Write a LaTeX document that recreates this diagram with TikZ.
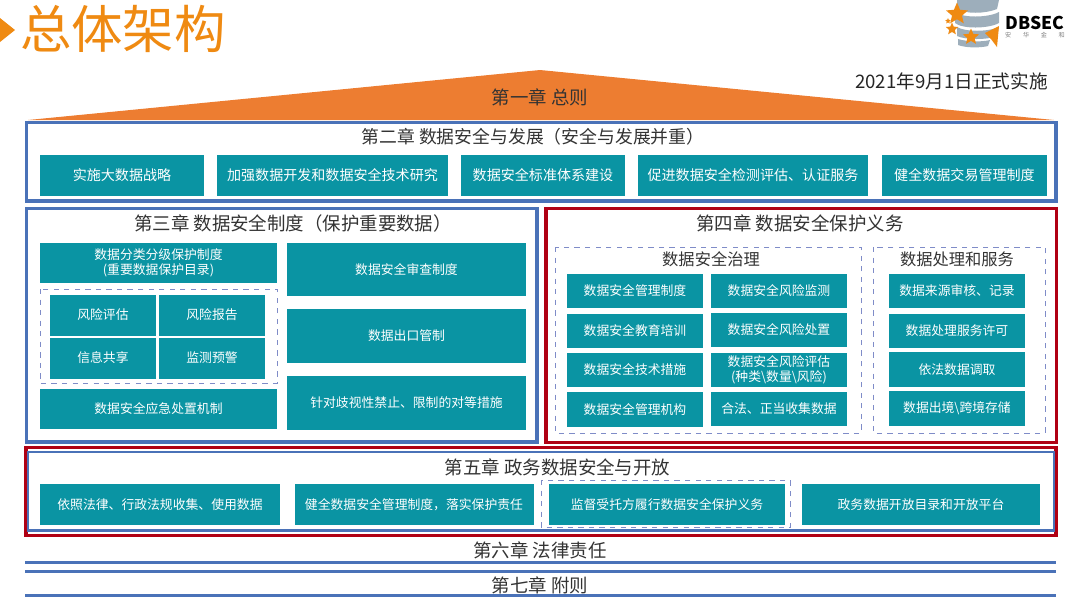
\documentclass[tikz,border=0pt]{standalone}
\usepackage{fontspec}
\usetikzlibrary{shapes.geometric}
\setmainfont{Noto Sans CJK SC}
\definecolor{tealbox}{HTML}{0A94A3}
\definecolor{framblue}{HTML}{4A72B8}
\definecolor{framred}{HTML}{B00014}
\definecolor{roofor}{HTML}{ED7D31}
\definecolor{titleor}{HTML}{EF8A12}
\definecolor{dashblue}{HTML}{7F8CC8}
\definecolor{logogray}{HTML}{9DAEBB}
\definecolor{headgray}{HTML}{333333}

\begin{document}
\begin{tikzpicture}[
    x=0.02cm, y=-0.02cm,
    sz/.style 2 args={minimum width=#1*0.02cm, minimum height=#2*0.02cm},
    box/.style={fill=tealbox, text=white, inner sep=0pt, align=center,
                font=\fontsize{7.3}{8.6}\selectfont},
    bigbox/.style={box, font=\fontsize{8}{9}\selectfont},
    chaphead/.style={text=headgray, inner sep=0pt, font=\fontsize{10.5}{12}\selectfont},
    subhead/.style={text=headgray, inner sep=0pt, font=\fontsize{9.25}{11}\selectfont},
    bluefrm/.style={draw=framblue, line width=3.2*0.02cm},
    redfrm/.style={draw=framred, line width=3.2*0.02cm},
    dashfrm/.style={draw=dashblue, dashed, line width=1*0.02cm},
    rule/.style={draw=framblue, line width=3*0.02cm},
    star5/.style={star, star points=5, star point ratio=2.2, fill=titleor, inner sep=0pt},
]
\useasboundingbox (0,0) rectangle (1080,603);

% 标题
\fill[titleor] (0,18) -- (15,30) -- (0,42) -- cycle;
\node[text=titleor, inner sep=0pt, font=\fontsize{29.3}{31}\selectfont] (title) at (123,29) {总体架构};

% 标志
\fill[logogray] (957,0) -- (999,0) -- (997,9) .. controls (985,14) and (965,14) .. (957,9) -- cycle;
\fill[logogray] (955,12) .. controls (962,18) and (988,18) .. (999,12) -- (999,23) .. controls (988,29) and (962,29) .. (955,23) -- cycle;
\fill[logogray] (957,27) .. controls (965,32) and (988,32) .. (999,27) -- (997,36) .. controls (988,40) and (965,40) .. (957,36) -- cycle;
\fill[logogray] (958,39) .. controls (968,42) and (982,42) .. (990,40) -- (988,46) .. controls (980,48) and (966,48) .. (958,45) -- cycle;
\node[star5, minimum size=23*0.02cm] (starbig) at (957,14) {};
\node[star5, minimum size=13*0.02cm] (starmid) at (952,29) {};
\node[star5, minimum size=6*0.02cm] (starsmall) at (948,21) {};
\node[star5, minimum size=17*0.02cm] (starlow) at (971,37) {};
\fill[titleor] (985,33) -- (999,26) -- (997,47) -- (991,39) -- cycle;
\node[inner sep=0pt, font=\fontsize{10}{11}\bfseries\selectfont] (brand) at (1035,23) {DBSEC};
\node[text=gray, inner sep=0pt, font=\fontsize{3.5}{4}\selectfont] (brandcn) at (1035,35) {安\hspace{1.9em}华\hspace{1.9em}金\hspace{1.9em}和};

% 实施日期
\node[text=black!85, inner sep=0pt, font=\fontsize{10.6}{12}\selectfont] (date) at (951.5,81) {2021年9月1日正式实施};

% 第一章
\fill[roofor] (28,120) -- (540,70) -- (1054,120) -- cycle;
\node[chaphead] (ch1) at (540,97) {第一章 总则};

% 第二章
\draw[bluefrm] (26.5,122.5) rectangle (1056,201);
\node[chaphead, font=\fontsize{10.15}{12}\selectfont] (ch2) at (533,137) {第二章 数据安全与发展（安全与发展并重）};
\node[bigbox, sz={164}{41}] (strategy) at (122,175.5) {实施大数据战略};
\node[bigbox, sz={231}{41}] (research) at (332.5,175.5) {加强数据开发和数据安全技术研究};
\node[bigbox, sz={164}{41}] (standard) at (543,175.5) {数据安全标准体系建设};
\node[bigbox, sz={230}{41}] (certify) at (753,175.5) {促进数据安全检测评估、认证服务};
\node[bigbox, sz={165}{41}] (trade) at (964.5,175.5) {健全数据交易管理制度};

% 第三章
\draw[bluefrm] (26.5,208.5) rectangle (537,442);
\node[chaphead] (ch3) at (293,223) {第三章 数据安全制度（保护重要数据）};
\node[box, sz={237}{40}] (grading) at (158.5,263) {数据分类分级保护制度\\(重要数据保护目录)};
\draw[dashfrm] (40,289) rectangle (277,383);
\node[box, sz={106}{41}] (assess) at (103,315) {风险评估};
\node[box, sz={106}{41}] (report) at (212,315) {风险报告};
\node[box, sz={106}{41}] (share) at (103,358) {信息共享};
\node[box, sz={106}{41}] (warn) at (212,358) {监测预警};
\node[box, sz={237}{40}] (emergency) at (158.5,409) {数据安全应急处置机制};
\node[box, sz={239}{53}] (review) at (406.5,269.5) {数据安全审查制度};
\node[box, sz={239}{54}] (export) at (406.5,336) {数据出口管制};
\node[box, sz={239}{54}] (equal) at (406.5,403) {针对歧视性禁止、限制的对等措施};

% 第四章
\draw[redfrm] (546,208.5) rectangle (1056.5,442.5);
\node[chaphead] (ch4) at (800,223) {第四章 数据安全保护义务};
\draw[dashfrm] (555,247) rectangle (861,433);
\draw[dashfrm] (873,247) rectangle (1045,433);
\node[subhead] (govern) at (711,259) {数据安全治理};
\node[subhead] (service) at (957,259) {数据处理和服务};
\node[box, sz={136}{34}] (policy) at (635,291) {数据安全管理制度};
\node[box, sz={136}{34}] (train) at (635,331) {数据安全教育培训};
\node[box, sz={136}{34}] (tech) at (635,370) {数据安全技术措施};
\node[box, sz={136}{35}] (organ) at (635,409.5) {数据安全管理机构};
\node[box, sz={136}{34}] (monitor) at (779,291) {数据安全风险监测};
\node[box, sz={136}{34}] (handle) at (779,330) {数据安全风险处置};
\node[box, sz={136}{34}] (evaluate) at (779,370) {数据安全风险评估\\(种类\textbackslash 数量\textbackslash 风险)};
\node[box, sz={136}{34}] (collect) at (779,409) {合法、正当收集数据};
\node[box, sz={136}{34}] (source) at (957,291) {数据来源审核、记录};
\node[box, sz={136}{34}] (license) at (957,330.5) {数据处理服务许可};
\node[box, sz={136}{35}] (retrieve) at (957,369.5) {依法数据调取};
\node[box, sz={136}{35}] (cross) at (957,408.5) {数据出境\textbackslash 跨境存储};

% 第五章
\draw[redfrm] (26,447.5) rectangle (1056,535.5);
\draw[bluefrm, line width=2.5*0.02cm] (28,452) rectangle (1054,530.5);
\node[chaphead] (ch5) at (557.5,467) {第五章 政务数据安全与开放};
\draw[dashfrm] (541,480) rectangle (790,527);
\node[box, sz={240}{41}] (lawful) at (160,504.5) {依照法律、行政法规收集、使用数据};
\node[box, sz={239}{41}] (respons) at (414,504.5) {健全数据安全管理制度，落实保护责任};
\node[box, sz={236}{41}] (entrust) at (667,504.5) {监督受托方履行数据安全保护义务};
\node[box, sz={238}{41}] (opendata) at (921,504.5) {政务数据开放目录和开放平台};

% 第六章 第七章
\node[chaphead] (ch6) at (540,550) {第六章 法律责任};
\draw[rule] (25,562) -- (1056,562);
\draw[rule] (25,571) -- (1056,571);
\node[chaphead] (ch7) at (540,585) {第七章 附则};
\draw[rule] (25,595) -- (1056,595);

\end{tikzpicture}
\end{document}
